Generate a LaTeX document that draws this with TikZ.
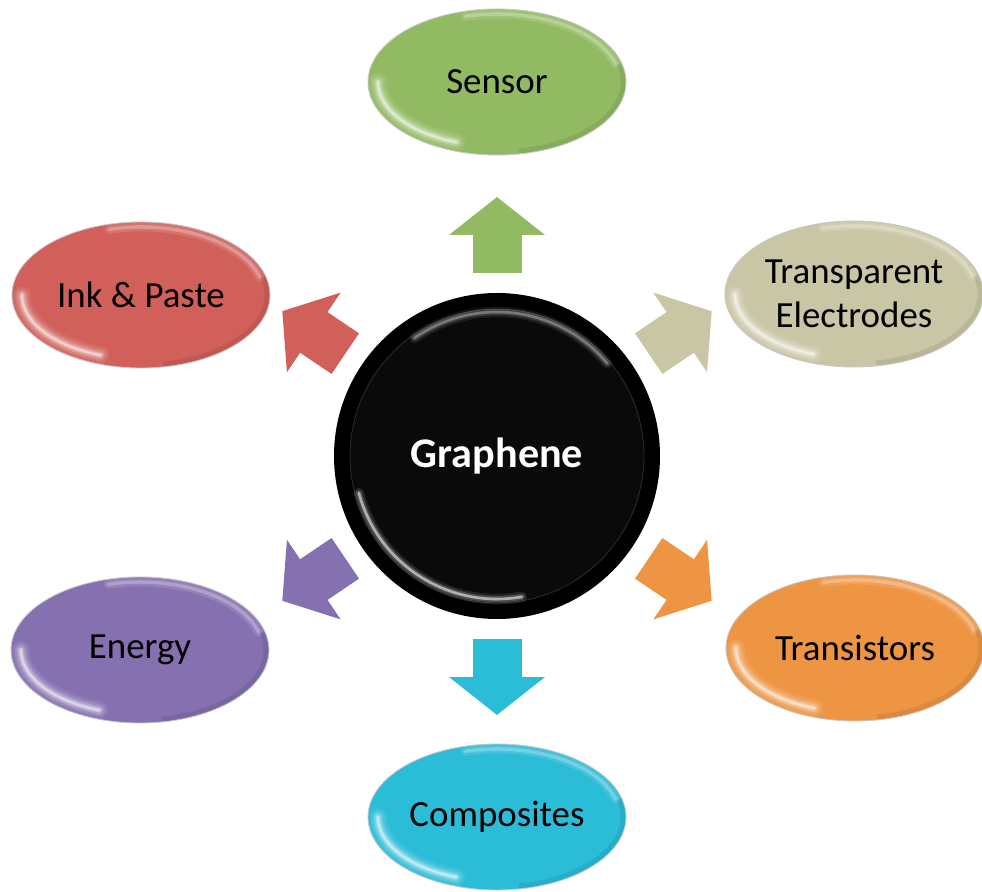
\documentclass[tikz,border=0pt]{standalone}
\usepackage{fontspec}
\setmainfont{Carlito}
\usepackage{xcolor}
\usepackage{tikz}
\usetikzlibrary{
  arrows.meta,
  shapes.geometric,
  calc
}

\definecolor{sensorc}{RGB}{146,186,98}
\definecolor{electc}{RGB}{201,198,166}
\definecolor{transc}{RGB}{238,149,68}
\definecolor{compc}{RGB}{43,188,216}
\definecolor{energc}{RGB}{133,112,176}
\definecolor{inkc}{RGB}{209,96,90}

\tikzset{
  appbox/.style={ellipse, minimum width=5.16cm, minimum height=2.92cm,
    inner sep=0pt, fill=#1, draw=black!22, line width=0.5pt, align=center,
    font=\fontsize{21}{25}\selectfont,
    path picture={
      % soft glint along the lower left rim
      \foreach \lw/\op in {10pt/0.08,7pt/0.12,4.5pt/0.2,2.5pt/0.3,1pt/0.4}{
        \draw[white, line width=\lw, opacity=\op, line cap=round]
          (path picture bounding box.center) ++(180:2.38 and 1.28)
          arc[start angle=180, end angle=250, x radius=2.38, y radius=1.28];
      }
      % faint light line along the upper rim
      \foreach \lw/\op in {5pt/0.12,2pt/0.25}{
        \draw[white, line width=\lw, opacity=\op, line cap=round]
          (path picture bounding box.center) ++(15:2.46 and 1.36)
          arc[start angle=15, end angle=105, x radius=2.46, y radius=1.36];
      }
      % darker edge to the lower right
      \draw[black, line width=5pt, opacity=0.08]
        (path picture bounding box.center) ++(-80:2.56 and 1.44)
        arc[start angle=-80, end angle=15, x radius=2.56, y radius=1.44];
    }},
  hub/.style={circle, minimum size=6.52cm, inner sep=0pt, fill=black,
    text=white, font=\bfseries\fontsize{24}{28}\selectfont,
    path picture={
      \fill[black!96] (path picture bounding box.center) circle (2.94);
      \draw[white, opacity=0.15, line width=0.5pt]
        (path picture bounding box.center) circle (2.94);
      % rim highlights
      \foreach \lw/\op in {6pt/0.08,3.5pt/0.15,1.5pt/0.3}{
        \draw[white, line width=\lw, opacity=\op, line cap=round]
          (path picture bounding box.center) ++(40:2.88)
          arc[start angle=40, end angle=125, radius=2.88];
      }
      \foreach \lw/\op in {6pt/0.1,3.5pt/0.2,1.5pt/0.55}{
        \draw[white, line width=\lw, opacity=\op, line cap=round]
          (path picture bounding box.center) ++(195:2.86)
          arc[start angle=195, end angle=280, radius=2.86];
      }
    }},
  pipe/.style={line width=0.98cm, draw=#1,
    -{Triangle[length=0.76cm, width=1.88cm]}}
}

\begin{document}
\begin{tikzpicture}
  \useasboundingbox (-9.94,-8.70) rectangle (9.70,9.12);

  % centre disc
  \node[hub] (core) at (0,0) {Graphene};

  % application ellipses
  \node[appbox=sensorc] (sensor) at (0,7.48) {Sensor};
  \node[appbox=electc] (electrodes) at (7.14,3.24) {Transparent\\Electrodes};
  \node[appbox=transc] (transistors) at (7.16,-3.84) {Transistors};
  \node[appbox=compc] (composites) at (0,-7.22) {Composites};
  \node[appbox=energc] (energy) at (-7.14,-3.88) {Energy};
  \node[appbox=inkc] (ink) at (-7.12,3.22) {Ink \& Paste};

  % block arrows pointing out of the disc
  \foreach \a/\c in {90/sensorc,34/electc,-34/transc,-90/compc,-146/energc,146/inkc}{
    \draw[pipe=\c] ($(core)+(\a:3.66)$) -- ($(core)+(\a:5.18)$);
  }
\end{tikzpicture}
\end{document}
